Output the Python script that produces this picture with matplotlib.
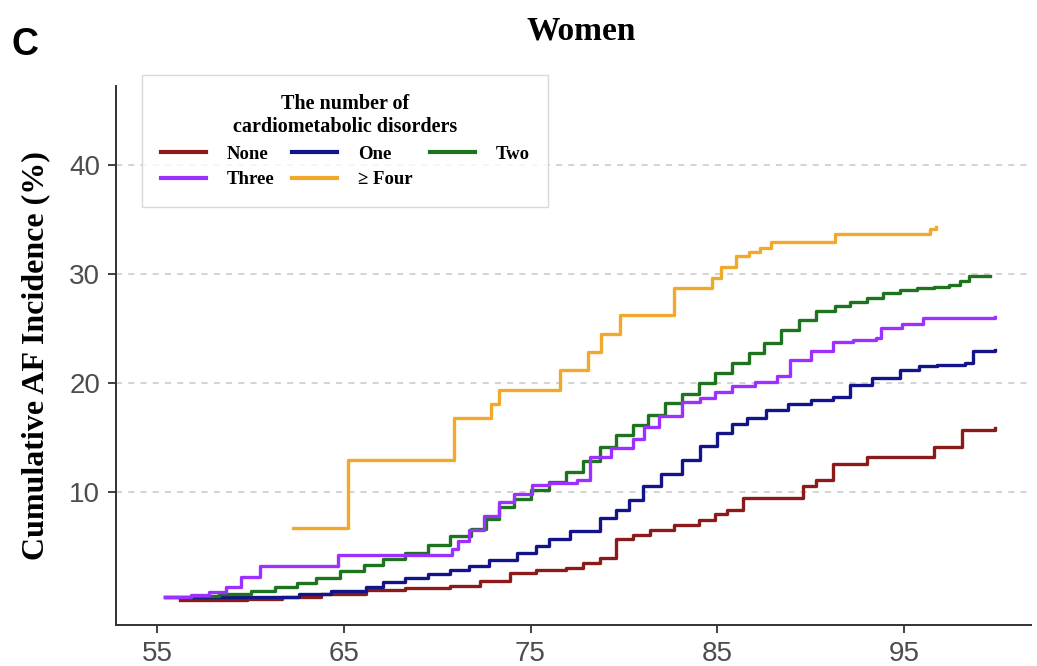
import matplotlib

matplotlib.use("Agg")
import matplotlib.pyplot as plt

# age (years) and cumulative AF incidence (%)
none_age = [56.2, 58.5, 59.8, 61.7, 63.8, 66.2, 68.3, 70.7, 72.3, 73.9, 75.3, 76.9, 77.8, 78.7, 79.6,
            80.5, 81.4, 82.7, 84.0, 84.9, 85.5, 86.4, 89.2, 89.6, 90.3, 91.2, 93.0, 96.4, 96.6, 98.1, 99.9]
none_val = [0.0, 0.05, 0.15, 0.3, 0.6, 1.0, 1.1, 1.3, 1.8, 2.5, 2.8, 3.0, 3.4, 3.9, 5.6,
            6.0, 6.5, 6.9, 7.4, 7.9, 8.3, 9.4, 9.4, 10.5, 11.1, 12.5, 13.2, 13.2, 14.1, 15.7, 15.8]

one_age = [55.4, 57.3, 60.0, 62.6, 64.3, 66.2, 67.1, 68.3, 69.5, 70.7, 71.7, 72.8, 74.3, 75.3, 76.0,
           77.1, 78.7, 79.6, 80.3, 81.0, 82.0, 83.1, 84.1, 85.0, 85.8, 86.6, 87.6, 88.8, 90.0, 91.2,
           92.1, 93.3, 94.8, 95.8, 96.8, 98.3, 98.7, 99.9]
one_val = [0.35, 0.35, 0.35, 0.55, 0.85, 1.2, 1.7, 2.1, 2.4, 2.8, 3.2, 3.7, 4.4, 5.0, 5.6,
           6.4, 7.6, 8.3, 9.2, 10.5, 11.6, 12.9, 14.2, 15.4, 16.2, 16.8, 17.5, 18.0, 18.4, 18.7,
           19.8, 20.4, 21.2, 21.5, 21.6, 21.8, 22.9, 23.0]

two_age = [55.4, 56.8, 58.3, 60.0, 61.3, 62.5, 63.5, 64.8, 66.1, 67.1, 68.3, 69.5, 70.7, 71.8, 72.6,
           73.3, 74.1, 75.0, 76.0, 76.9, 77.8, 78.7, 79.6, 80.5, 81.3, 82.2, 83.1, 84.0, 84.9, 85.8,
           86.7, 87.5, 88.4, 89.4, 90.3, 91.3, 92.1, 93.0, 93.9, 94.8, 95.7, 96.6, 97.4, 98.0, 98.5, 99.6]
two_val = [0.35, 0.45, 0.6, 0.9, 1.2, 1.6, 2.1, 2.7, 3.3, 3.8, 4.4, 5.1, 5.9, 6.6, 7.5,
           8.6, 9.3, 10.1, 10.9, 11.8, 12.8, 14.1, 15.2, 16.1, 17.0, 18.1, 19.0, 20.0, 20.9, 21.8,
           22.7, 23.6, 24.8, 25.8, 26.6, 27.0, 27.4, 27.8, 28.2, 28.5, 28.7, 28.8, 29.0, 29.3, 29.8, 29.8]

three_age = [55.4, 56.8, 57.8, 58.7, 59.5, 60.5, 64.4, 64.7, 70.8, 71.1, 71.7, 72.5, 73.3, 74.1, 75.1,
             76.0, 77.5, 78.2, 79.3, 80.5, 81.1, 81.9, 83.1, 84.1, 84.9, 85.8, 87.0, 88.2, 88.9, 90.0,
             91.2, 92.3, 93.5, 93.8, 94.9, 96.0, 99.9]
three_val = [0.35, 0.5, 0.8, 1.2, 2.2, 3.2, 3.2, 4.2, 4.7, 5.5, 6.5, 7.8, 9.0, 9.8, 10.6,
             10.8, 11.1, 13.2, 14.0, 14.8, 15.9, 16.9, 18.2, 18.6, 19.1, 19.7, 20.1, 20.6, 22.1, 22.9,
             23.7, 23.9, 24.1, 25.0, 25.4, 25.9, 26.0]

four_age = [62.3, 65.2, 70.9, 72.9, 73.3, 76.6, 78.1, 78.8, 79.8, 82.7, 84.7, 85.2, 86.0, 86.7, 87.3,
            87.9, 91.3, 96.4, 96.7]
four_val = [6.7, 12.9, 16.8, 18.0, 19.3, 21.2, 22.8, 24.5, 26.2, 28.7, 29.6, 30.6, 31.6, 32.0, 32.4,
            32.9, 33.7, 34.1, 34.3]

x_ticks = [55, 65, 75, 85, 95]
y_ticks = [10, 20, 30, 40]

serif = ["Liberation Serif", "DejaVu Serif"]
sans = ["Liberation Sans", "DejaVu Sans"]

fig = plt.figure(figsize=(10.37, 6.66), dpi=100)
ax = fig.add_axes([0.112, 0.0616, 0.882, 0.8093])

series = [
    ("None", none_age, none_val, "#8B1A1A"),
    ("One", one_age, one_val, "#14148A"),
    ("Two", two_age, two_val, "#1E731E"),
    ("Three", three_age, three_val, "#9B30FF"),
    ("\u2265 Four", four_age, four_val, "#F0A92A"),
]
lines = {}
for name, ages, vals, col in series:
    ln, = ax.step(ages, vals, where="post", color=col, linewidth=2.4, label=name, zorder=3)
    lines[name] = ln

for yv in y_ticks:
    ax.axhline(yv, color="#C8C8C8", linestyle=(0, (4, 4)), linewidth=1.1, zorder=1)

ax.set_xlim(52.8, 101.8)
ax.set_ylim(-2.25, 47.25)
ax.set_xticks(x_ticks)
ax.set_yticks(y_ticks)
ax.tick_params(axis="both", labelsize=20, labelcolor="#4D4D4D", color="#333333",
               length=5.5, width=1.3)
ax.tick_params(axis="y", pad=6)
ax.tick_params(axis="x", pad=6)
for lab in ax.get_xticklabels() + ax.get_yticklabels():
    lab.set_family(sans)
for side in ["top", "right"]:
    ax.spines[side].set_visible(False)
for side in ["left", "bottom"]:
    ax.spines[side].set_color("#333333")
    ax.spines[side].set_linewidth(1.4)

order = ["None", "Three", "One", "\u2265 Four", "Two"]
leg = ax.legend([lines[k] for k in order], order, ncol=3,
                title="The number of\ncardiometabolic disorders",
                loc="upper left", bbox_to_anchor=(0.137, 0.887), bbox_transform=fig.transFigure,
                borderaxespad=0, frameon=True, fancybox=False, edgecolor="#D0D0D0",
                prop={"family": serif, "weight": "bold", "size": 13.5},
                title_fontproperties={"family": serif, "weight": "bold", "size": 14.5},
                handlelength=2.4, handletextpad=1.1, columnspacing=0.95,
                labelspacing=0.45, borderpad=1.0)
leg.get_title().set_multialignment("center")
leg.get_frame().set_linewidth(1.0)
for h in leg.get_lines():
    h.set_linewidth(3.0)

fig.text(0.034, 0.466, "Cumulative AF Incidence (%)", rotation=90, ha="center", va="center",
         fontsize=23, fontweight="bold", family=serif)
fig.text(0.560, 0.9414, "Women", ha="center", va="baseline",
         fontsize=24, fontweight="bold", family=serif)
fig.text(0.011, 0.917, "C", ha="left", va="baseline",
         fontsize=27, fontweight="bold", family=sans)

fig.savefig("out.png", dpi=100)
plt.close()
